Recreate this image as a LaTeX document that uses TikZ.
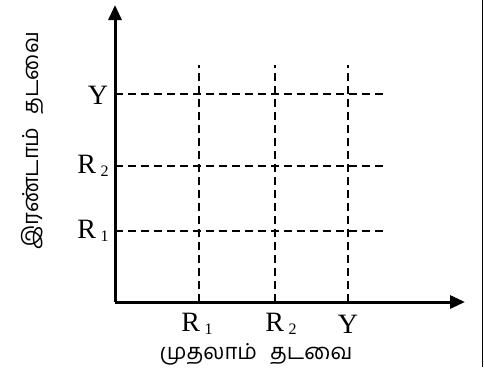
\documentclass[tikz,border=0pt]{standalone}
\usepackage{fontspec}
\setmainfont{Liberation Serif}
\newfontfamily\tamilfont[Script=Tamil]{Hind Madurai}
\usetikzlibrary{arrows.meta}
\newcommand{\lowidx}[1]{\,\raisebox{-3pt}{\fontsize{16}{16}\selectfont #1}}

\begin{document}
\begin{tikzpicture}[x=1pt, y=-1pt,
  every node/.style={font=\fontsize{28}{30}\selectfont, inner sep=0pt},
  axis/.style={line width=3pt, -{Triangle[length=15pt,width=13pt]}},
  gridline/.style={line width=2.3pt, dash pattern=on 8pt off 5pt},
  tamil/.style={font=\tamilfont\fontsize{22}{24}\selectfont}
]
  \useasboundingbox (0,0) rectangle (484,367);

  % axes
  \coordinate (o) at (115,302);
  \coordinate (ytip) at (115,5);
  \coordinate (xtip) at (465,302);
  \draw[axis] (o) -- (ytip);
  \draw[axis] (o) -- (xtip);

  % vertical grid lines
  \foreach \x/\n in {199/a, 275/b, 348/c} {
    \coordinate (v\n top) at (\x,65);
    \coordinate (v\n bot) at (\x,302);
    \draw[gridline] (v\n bot) -- (v\n top);
  }
  % horizontal grid lines
  \foreach \y/\n in {94/a, 166/b, 231/c} {
    \coordinate (h\n left) at (115,\y);
    \coordinate (h\n right) at (387,\y);
    \draw[gridline] (h\n left) -- (h\n right);
  }

  % labels on the y axis
  \node (ly) at (98,95) {Y};
  \node (lr2) at (93,166) {R\lowidx{2}};
  \node (lr1) at (93,231) {R\lowidx{1}};

  % labels on the x axis
  \node (br1) at (197,324) {R\lowidx{1}};
  \node (br2) at (281,324) {R\lowidx{2}};
  \node (by) at (348,324) {Y};

  % axis titles
  \node[tamil] (xtitle) at (256,354) {முதலாம்\hspace{13pt}தடவை};
  \node[tamil, rotate=90] (ytitle) at (32,141) {இரண்டாம்\hspace{13pt}தடவை};

  % frame edge
  \draw[line width=1.5pt] (482.5,0) -- (482.5,367);
\end{tikzpicture}
\end{document}
